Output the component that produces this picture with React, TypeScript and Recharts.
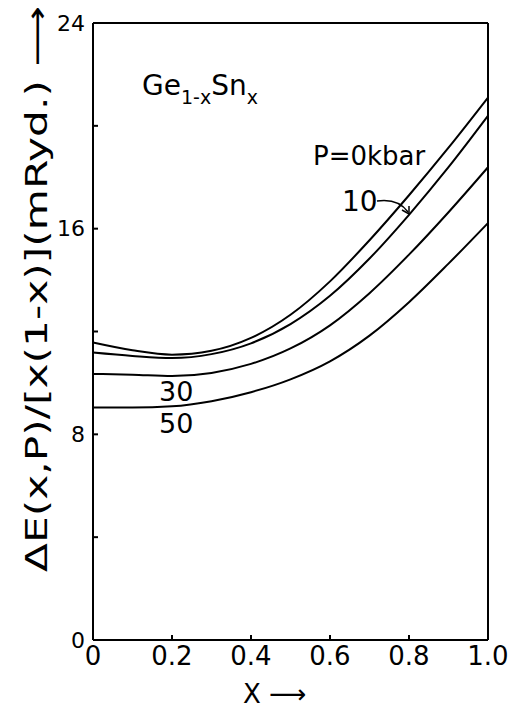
import { LineChart, Line, XAxis, YAxis, ReferenceLine } from "recharts"

// composition x
const xValues = [0, 0.1, 0.2, 0.3, 0.4, 0.5, 0.6, 0.7, 0.8, 0.9, 1.0]

// ΔE/[x(1-x)] in mRyd for each pressure
const p0 = [11.57, 11.27, 11.1, 11.25, 11.75, 12.65, 13.95, 15.55, 17.3, 19.15, 21.1]
const p10 = [11.18, 11.05, 10.97, 11.12, 11.54, 12.29, 13.39, 14.84, 16.54, 18.39, 20.39]
const p30 = [10.35, 10.32, 10.27, 10.39, 10.74, 11.34, 12.24, 13.49, 14.99, 16.64, 18.39]
const p50 = [9.04, 9.04, 9.09, 9.29, 9.64, 10.14, 10.84, 11.84, 13.14, 14.64, 16.22]

const xTicks = [0, 0.2, 0.4, 0.6, 0.8, 1.0]
const yTicks = [0, 4, 8, 12, 16, 20, 24]

const data = xValues.map((x, i) => ({ x, p0: p0[i], p10: p10[i], p30: p30[i], p50: p50[i] }))

const FONT = "DejaVu Sans"

export default function App() {
  const lineProps = {
    type: "monotone" as const,
    stroke: "#000",
    strokeWidth: 2,
    dot: false,
    isAnimationActive: false,
  }

  return (
    <div style={{ position: "absolute", left: 0, top: 0, width: 513, height: 708, background: "#fff" }}>
      <LineChart width={513} height={708} data={data} margin={{ top: 23, right: 25, left: 0, bottom: 0 }}>
        <XAxis
          dataKey="x"
          type="number"
          domain={[0, 1]}
          ticks={xTicks}
          height={68}
          tickSize={-5}
          tickMargin={12}
          stroke="#000"
          strokeWidth={2}
          tick={{ fill: "#000", fontSize: 26, fontFamily: FONT }}
          tickFormatter={(v: number) => (v === 0 ? "0" : v.toFixed(1))}
        />
        <YAxis
          type="number"
          domain={[0, 24]}
          ticks={yTicks}
          width={93}
          tickSize={-5}
          tickMargin={13}
          stroke="#000"
          strokeWidth={2}
          tick={{ fill: "#000", fontSize: 22, fontFamily: FONT }}
          tickFormatter={(v: number) => (v % 8 === 0 ? String(v) : "")}
        />
        <ReferenceLine y={24} stroke="#000" strokeWidth={2} />
        <ReferenceLine x={1} stroke="#000" strokeWidth={2} />
        <Line dataKey="p0" {...lineProps} />
        <Line dataKey="p10" {...lineProps} />
        <Line dataKey="p30" {...lineProps} />
        <Line dataKey="p50" {...lineProps} />
      </LineChart>
      <svg
        width={513}
        height={708}
        style={{ position: "absolute", left: 0, top: 0, pointerEvents: "none" }}
        fontFamily={FONT}
        fill="#000"
      >
        <text
          transform="translate(47 289) rotate(-90)"
          textAnchor="middle"
          fontSize={30}
          textLength={566}
          lengthAdjust="spacingAndGlyphs"
        >
          ΔE(x,P)/[x(1-x)](mRyd.) ⟶
        </text>
        <text x={243} y={703} fontSize={26}>
          X ⟶
        </text>
        <text x={142} y={95} fontSize={28}>
          Ge
          <tspan fontSize={19} dy={9}>1-x</tspan>
          <tspan dy={-9}>Sn</tspan>
          <tspan fontSize={19} dy={9}>x</tspan>
        </text>
        <text x={313} y={165} fontSize={26}>
          P=0kbar
        </text>
        <text x={342} y={211} fontSize={28}>
          10
        </text>
        <path d="M377 201 Q398 198 408 212" fill="none" stroke="#000" strokeWidth={1.5} />
        <path d="M402 210 L409 214 L409 206" fill="none" stroke="#000" strokeWidth={1.5} />
        <text x={159} y={401} fontSize={27}>
          30
        </text>
        <text x={159} y={433} fontSize={27}>
          50
        </text>
      </svg>
    </div>
  )
}
